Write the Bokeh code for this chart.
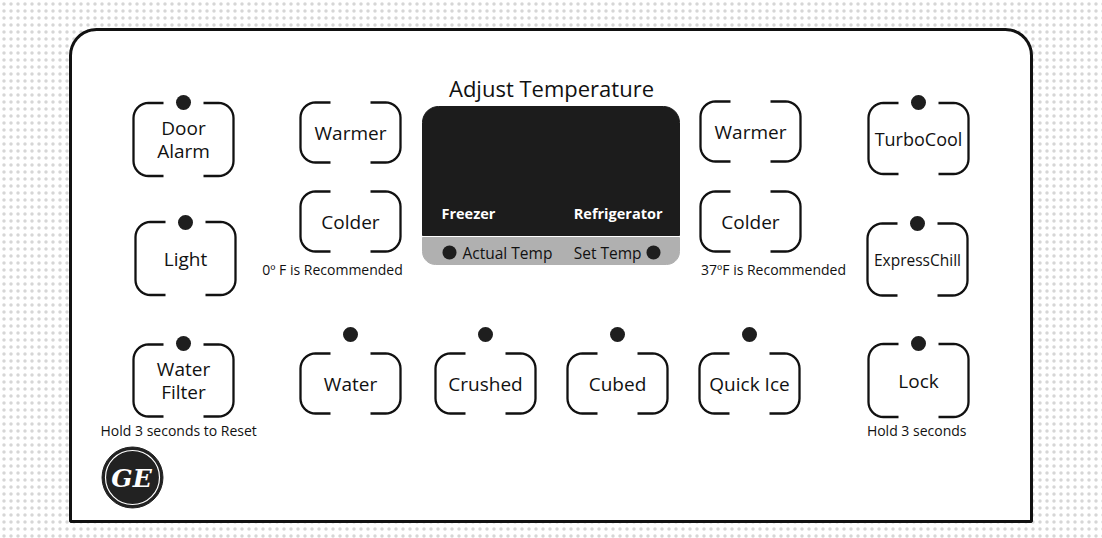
import numpy as np
from bokeh.plotting import figure
from bokeh.models import Range1d
from bokeh.core.properties import value
from bokeh.embed import file_html
from bokeh.resources import INLINE

# ---------------- data ----------------
button_labels = ["Door\nAlarm", "Warmer", "Warmer", "TurboCool",
                 "Light", "Colder", "Colder", "ExpressChill",
                 "Water\nFilter", "Water", "Crushed", "Cubed", "Quick Ice", "Lock"]
button_font = ["19px", "19px", "19px", "18px",
               "19px", "19px", "19px", "15.5px",
               "19px", "19px", "19px", "19px", "19px", "19px"]
# layout (pixel-like units)
button_x = [183, 350, 750, 918, 185, 350, 750, 917, 183, 350, 485, 617, 749, 918]
button_y = [139, 132, 131, 138, 258, 221, 221, 259, 380, 383, 383, 383, 383, 380]
button_h = [73, 60, 60, 71, 73, 60, 60, 72, 72, 60, 60, 60, 60, 73]
button_w = [100] * 14

led_x = [183, 918, 185, 917, 183, 350, 485, 617, 749, 918]
led_y = [102, 102, 222, 223, 343, 334, 334, 334, 334, 343]

note_labels = ["0º F is Recommended", "37ºF is Recommended", "Hold  3 seconds to Reset", "Hold  3 seconds"]
note_x = [332, 773, 180, 918]
note_y = [269, 269, 430, 430]

title_text = "Adjust Temperature"
display_labels = ["Freezer", "Refrigerator"]
strip_labels = ["Actual Temp", "Set Temp"]

FONT = "Open Sans"
INK = "#111111"

# ---------------- helpers ----------------
def arc(cx, cy, r, a0, a1, n=10):
    t = np.radians(np.linspace(a0, a1, n))
    return list(cx + r * np.cos(t)), list(cy + r * np.sin(t))


def rounded_rect(x0, y0, x1, y1, rtl, rtr, rbr, rbl):
    xs, ys = [], []
    for (cx, cy, r, a0, a1) in [(x0 + rtl, y0 + rtl, rtl, 180, 270),
                                (x1 - rtr, y0 + rtr, rtr, 270, 360),
                                (x1 - rbr, y1 - rbr, rbr, 0, 90),
                                (x0 + rbl, y1 - rbl, rbl, 90, 180)]:
        ax, ay = arc(cx, cy, r, a0, a1)
        xs += ax
        ys += ay
    return xs, ys


def brackets(cx, cy, w, h, gap=40, r=15):
    x0, x1 = cx - w / 2, cx + w / 2
    y0, y1 = cy - h / 2, cy + h / 2
    lx, ly = [cx - gap / 2], [y0]
    ax, ay = arc(x0 + r, y0 + r, r, 270, 180)
    lx += ax; ly += ay
    ax, ay = arc(x0 + r, y1 - r, r, 180, 90)
    lx += ax; ly += ay
    lx.append(cx - gap / 2); ly.append(y1)
    rx, ry = [cx + gap / 2], [y0]
    ax, ay = arc(x1 - r, y0 + r, r, 270, 360)
    rx += ax; ry += ay
    ax, ay = arc(x1 - r, y1 - r, r, 0, 90)
    rx += ax; ry += ay
    rx.append(cx + gap / 2); ry.append(y1)
    return (lx, ly), (rx, ry)


# ---------------- figure ----------------
W, H = 1102, 538
p = figure(width=W, height=H, x_range=Range1d(0, W), y_range=Range1d(H, 0),
           output_backend="svg", toolbar_location=None, min_border=0,
           x_axis_location=None, y_axis_location=None)
p.grid.visible = False
p.outline_line_color = None
p.background_fill_color = "white"
p.border_fill_color = "white"

# textured background outside panel
p.quad(left=[0], right=[W], top=[0], bottom=[H], fill_color="white",
       line_color=None, hatch_pattern="dot", hatch_color="#d2d2d2",
       hatch_scale=7, hatch_weight=0.4, hatch_alpha=0.9)

# panel
px, py = rounded_rect(70, 29, 1031, 521, 26, 26, 0, 0)
p.patch(px, py, fill_color="white", line_color=INK, line_width=3)

# display
dx, dy = rounded_rect(422, 106, 679, 235, 16, 16, 0, 0)
p.patch(dx, dy, fill_color="#1c1c1c", line_color="#1c1c1c", line_width=1)
sx, sy = rounded_rect(422, 237, 679, 264, 0, 0, 13, 13)
p.patch(sx, sy, fill_color="#b0b0b0", line_color="#b0b0b0", line_width=1)

p.text(x=[551], y=[87], text=[title_text], text_font=value(FONT),
       text_font_size="22px", text_color=INK, text_align="center",
       text_baseline="middle")
p.text(x=[441, 662], y=[213, 213], text=display_labels, text_font=value(FONT),
       text_font_size="14.5px", text_font_style="bold", text_color="white",
       text_align=["left", "right"], text_baseline="middle")
p.scatter(x=[449, 653], y=[252, 252], size=14, fill_color="#1e1e1e", line_color=None)
p.text(x=[462, 641], y=[252, 252], text=strip_labels, text_font=value(FONT),
       text_font_size="15.5px", text_color=INK,
       text_align=["left", "right"], text_baseline="middle")

# buttons
xs_list, ys_list = [], []
for cx, cy, w, h in zip(button_x, button_y, button_w, button_h):
    (lx, ly), (rx, ry) = brackets(cx, cy, w, h)
    xs_list += [lx, rx]
    ys_list += [ly, ry]
p.multi_line(xs_list, ys_list, line_color=INK, line_width=2.3)

p.text(x=button_x, y=button_y, text=button_labels, text_font=value(FONT),
       text_font_size=button_font, text_color=INK, text_align="center",
       text_baseline="middle", text_line_height=0.85)

# LEDs
p.scatter(x=led_x, y=led_y, size=15, fill_color="#1e1e1e", line_color=None)

# notes
p.text(x=note_x, y=note_y, text=note_labels, text_font=value(FONT),
       text_font_size="14px", text_color=INK, text_align="center",
       text_baseline="middle")

# GE logo
p.scatter(x=[132], y=[477], size=61, fill_color="#222222", line_color="#222222", line_width=1)
p.scatter(x=[132], y=[477], size=54, fill_color=None, line_color="white", line_width=1.2)
p.text(x=[131], y=[478], text=["GE"], text_font=value("DejaVu Serif"),
       text_font_size="25px", text_font_style="bold italic", text_color="white",
       text_align="center", text_baseline="middle")

open("out.html", "w").write(file_html(p, INLINE))
